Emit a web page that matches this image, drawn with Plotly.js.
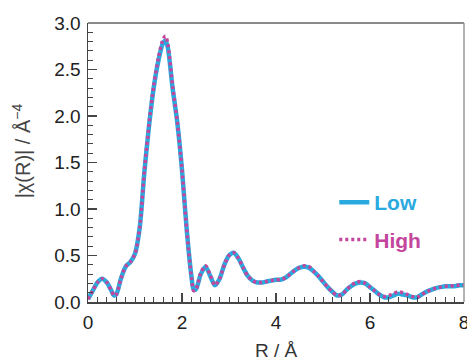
<!DOCTYPE html>
<html>
<head>
<meta charset="utf-8">
<script src="https://cdn.plot.ly/plotly-3.0.1.min.js"></script>
<style>html,body{margin:0;padding:0;background:#fff}#chart{width:467px;height:361px}</style>
</head>
<body>
<div id="chart"></div>
<script>
const R = [0.0,0.1,0.2,0.3,0.4,0.5,0.55,0.6,0.7,0.8,0.9,1.0,1.1,1.2,1.3,1.4,1.5,1.6,1.65,1.7,1.8,1.9,2.0,2.1,2.2,2.25,2.3,2.4,2.5,2.6,2.7,2.8,2.9,3.0,3.1,3.2,3.3,3.4,3.5,3.6,3.7,3.8,3.9,4.0,4.1,4.2,4.3,4.4,4.5,4.6,4.7,4.8,4.9,5.0,5.1,5.2,5.3,5.4,5.5,5.6,5.7,5.8,5.9,6.0,6.1,6.2,6.3,6.4,6.5,6.6,6.7,6.8,6.9,7.0,7.1,7.2,7.3,7.4,7.5,7.6,7.7,7.8,7.9,8.0];
const lowValues = [0.03,0.12,0.21,0.25,0.21,0.12,0.07,0.08,0.25,0.38,0.43,0.52,0.80,1.40,1.90,2.31,2.60,2.79,2.81,2.73,2.30,1.93,1.42,0.78,0.28,0.13,0.14,0.30,0.38,0.28,0.18,0.25,0.40,0.50,0.53,0.47,0.37,0.28,0.23,0.21,0.21,0.22,0.23,0.24,0.24,0.26,0.30,0.34,0.37,0.38,0.37,0.33,0.28,0.22,0.16,0.11,0.07,0.08,0.13,0.17,0.20,0.21,0.20,0.16,0.12,0.08,0.05,0.05,0.07,0.09,0.08,0.07,0.05,0.05,0.08,0.11,0.13,0.15,0.16,0.17,0.17,0.17,0.18,0.18];
const highValues = [0.03,0.12,0.21,0.25,0.21,0.12,0.07,0.08,0.25,0.38,0.43,0.52,0.80,1.41,1.92,2.33,2.63,2.83,2.86,2.77,2.32,1.94,1.42,0.78,0.27,0.12,0.14,0.31,0.39,0.29,0.18,0.25,0.40,0.50,0.53,0.47,0.37,0.28,0.23,0.21,0.21,0.22,0.23,0.24,0.24,0.26,0.30,0.34,0.37,0.39,0.38,0.33,0.28,0.22,0.16,0.11,0.07,0.08,0.13,0.18,0.21,0.22,0.20,0.16,0.12,0.08,0.06,0.07,0.09,0.11,0.10,0.08,0.06,0.05,0.08,0.11,0.13,0.15,0.16,0.17,0.17,0.18,0.18,0.18];
const seriesNames = ['Low', 'High'];
const xTickVals = [0,2,4,6,8];
const yTickVals = [0,0.5,1.0,1.5,2.0,2.5,3.0];
const xTitle = 'R / Å';
const yTitle = '|χ(R)| / Å<sup>−4</sup>';

const blue = '#29a9de', magenta = '#c4469c';
const traces = [
  {x: R, y: lowValues, type: 'scatter', mode: 'lines', name: '<b><span style="color:' + blue + '">' + seriesNames[0] + '</span></b>',
   legendgroup: 'a', line: {color: blue, width: 4.5, shape: 'spline', smoothing: 0.8}},
  {x: R, y: highValues, type: 'scatter', mode: 'lines', name: '<b><span style="color:' + magenta + '">' + seriesNames[1] + '</span></b>',
   legendgroup: 'b', line: {color: magenta, width: 3.5, dash: '3px,3px', shape: 'spline', smoothing: 0.8}}
];
const axCol = '#444';
const layout = {
  width: 467, height: 361,
  margin: {l: 88, r: 3, t: 23, b: 59},
  paper_bgcolor: '#fff', plot_bgcolor: '#fff',
  font: {family: 'Liberation Sans, Arial, sans-serif', size: 19, color: '#222'},
  showlegend: true,
  legend: {x: 0.655, xanchor: 'left', y: 0.43, yanchor: 'top', bgcolor: 'rgba(0,0,0,0)',
           font: {size: 21}, tracegroupgap: 7, traceorder: 'grouped'},
  xaxis: {range: [0, 8], tickvals: xTickVals, ticktext: xTickVals.map(String),
          ticks: 'inside', ticklen: 9, tickcolor: axCol, tickwidth: 1.3, ticklabeloverflow: 'allow',
          tickfont: {size: 19}, ticklabelstandoff: 3,
          minor: {dtick: 0.2, ticks: 'inside', ticklen: 5, tickcolor: axCol, tickwidth: 1},
          showline: true, linecolor: axCol, linewidth: 1.5, showgrid: false, zeroline: false,
          title: {text: xTitle, font: {size: 19, color: '#333'}, standoff: 11}},
  yaxis: {range: [0, 3.0], tickvals: yTickVals, ticktext: yTickVals.map(v => v.toFixed(1)),
          ticks: 'inside', ticklen: 9, tickcolor: axCol, tickwidth: 1.3,
          tickfont: {size: 19}, ticklabelstandoff: 2,
          minor: {dtick: 0.1, ticks: 'inside', ticklen: 5, tickcolor: axCol, tickwidth: 1},
          showline: true, linecolor: axCol, linewidth: 1.5, showgrid: false, zeroline: false},
  annotations: [
    {text: yTitle, xref: 'paper', yref: 'paper', x: 0, y: 0.54, xshift: -67, textangle: -90,
     showarrow: false, xanchor: 'center', yanchor: 'middle', font: {size: 20, color: '#444'}}
  ],
  shapes: [
    {type: 'line', xref: 'paper', yref: 'paper', x0: 0, x1: 1, y0: 1, y1: 1, line: {color: '#8a8a8a', width: 2}},
    {type: 'line', xref: 'paper', yref: 'paper', x0: 1, x1: 1, y0: 0, y1: 1, line: {color: '#9a9a9a', width: 1.5}}
  ]
};
Plotly.newPlot('chart', traces, layout, {displayModeBar: false, staticPlot: true});
</script>
</body>
</html>
